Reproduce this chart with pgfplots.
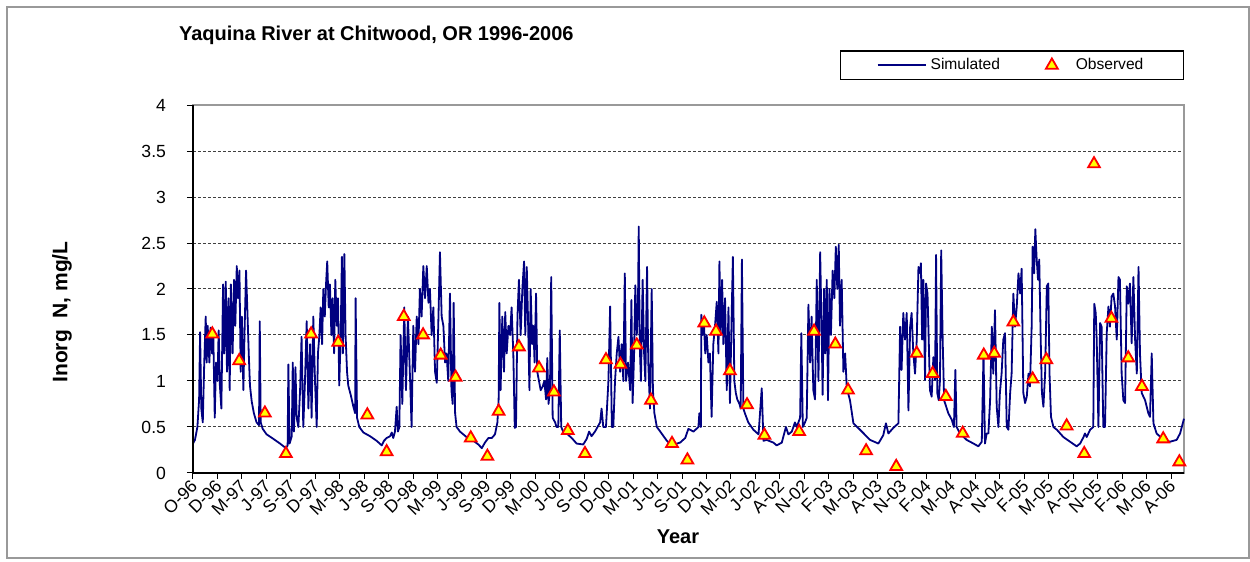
\documentclass[border=0pt]{standalone}
\usepackage{pgfplots}
\pgfplotsset{compat=1.18}
\usepackage{fontspec}
\setmainfont{Liberation Sans}
\definecolor{simblue}{RGB}{0,0,128}
\definecolor{obsred}{RGB}{255,0,0}
\definecolor{obsyellow}{RGB}{255,255,0}
\pgfplotsset{simleg/.style={legend image code/.code={\path (0pt,0pt) -- (24pt,0pt); \draw[##1] (6pt,0pt) -- (24pt,0pt);}}}
\begin{document}
\begin{tikzpicture}
\useasboundingbox (0,0) rectangle (625pt,281pt);
\draw[gray!80, line width=0.6pt] (3.5pt,2pt) rectangle (624.5pt,277.5pt);
\node[anchor=west, font=\fontsize{10}{12}\selectfont\bfseries] at (86pt,263.5pt) {Yaquina River at Chitwood,  OR 1996-2006};
\node[rotate=90, font=\fontsize{10.5}{12}\selectfont\bfseries] at (31pt,125pt) {Inorg\ \ N, mg/L};
\node[font=\fontsize{10}{12}\selectfont\bfseries] at (339pt,12.5pt) {Year};
\begin{axis}[
  at={(96.5pt,44.5pt)}, anchor=south west,
  width=495.5pt, height=184pt, scale only axis,
  xmin=0, xmax=40.53, ymin=0, ymax=4,
  axis line style={draw=gray!80, line width=0.6pt},
  tick align=outside, major tick length=3pt,
  tick style={black, line width=0.5pt},
  xtick pos=left, ytick pos=left,
  xtick={0,1,...,40},
  xticklabels={O-96,D-96,M-97,J-97,S-97,D-97,M-98,J-98,S-98,D-98,M-99,J-99,S-99,D-99,M-00,J-00,S-00,D-00,M-01,J-01,S-01,D-01,M-02,J-02,A-02,N-02,F-03,M-03,A-03,N-03,F-04,M-04,A-04,N-04,F-05,M-05,A-05,N-05,F-06,M-06,A-06},
  xticklabel style={rotate=45, anchor=east, font=\fontsize{8.8}{10}\selectfont, inner sep=1pt, yshift=-2pt},
  ytick={0,0.5,1,1.5,2,2.5,3,3.5,4},
  yticklabels={0,0.5,1,1.5,2,2.5,3,3.5,4},
  yticklabel style={font=\fontsize{8.8}{10}\selectfont, xshift=-7pt},
  ymajorgrids,
  grid style={black!75, dash pattern=on 1.5pt off 1pt, line width=0.5pt},
  clip=false,
  legend columns=2,
  legend style={at={(1,1)}, anchor=south east, yshift=12.5pt, draw=black, line width=0.6pt,
    font=\fontsize{7.8}{9}\selectfont, inner xsep=18pt, inner ysep=1.5pt,
    /tikz/every even column/.append style={column sep=21pt}},
  legend cell align=left,
]
\addplot[simblue, line width=0.9pt, line join=round, simleg] table {
0.00 0.32
0.08 0.36
0.18 0.50
0.25 0.80
0.29 1.53
0.34 0.70
0.40 0.55
0.46 1.20
0.52 1.70
0.56 1.20
0.60 1.60
0.67 1.20
0.72 1.58
0.78 1.30
0.83 1.50
0.89 0.60
0.94 1.20
1.00 1.00
1.05 1.55
1.10 0.95
1.16 0.70
1.23 2.05
1.28 1.30
1.34 2.08
1.39 1.10
1.45 1.90
1.50 0.90
1.55 2.05
1.62 1.30
1.68 2.10
1.73 1.60
1.79 2.25
1.84 1.90
1.90 2.20
1.95 1.10
2.00 1.70
2.06 0.90
2.11 1.55
2.17 2.20
2.22 1.80
2.28 1.30
2.33 0.95
2.40 0.78
2.49 0.65
2.60 0.55
2.70 0.52
2.73 1.65
2.77 0.55
2.85 0.48
3.01 0.42
3.29 0.37
3.56 0.32
3.80 0.27
3.87 0.30
3.90 1.18
3.95 0.32
4.04 0.40
4.08 1.20
4.13 0.45
4.19 1.15
4.24 0.60
4.31 0.50
4.38 0.90
4.44 1.48
4.51 0.50
4.58 1.00
4.65 1.65
4.72 0.70
4.79 1.40
4.85 0.60
4.92 1.70
4.99 1.00
5.06 0.50
5.11 1.30
5.17 1.50
5.22 1.80
5.28 1.40
5.33 2.00
5.39 1.70
5.44 2.05
5.49 2.30
5.55 1.80
5.60 2.05
5.66 1.50
5.71 1.90
5.77 1.30
5.82 2.10
5.88 1.60
5.93 1.90
5.98 0.95
6.04 1.50
6.09 2.35
6.13 1.30
6.19 2.38
6.24 1.50
6.30 1.10
6.35 0.95
6.45 0.85
6.56 0.72
6.63 0.65
6.65 1.90
6.71 0.60
6.80 0.50
6.97 0.44
7.24 0.40
7.51 0.35
7.72 0.30
7.81 0.35
7.92 0.38
8.06 0.40
8.13 0.44
8.19 0.38
8.26 0.45
8.33 0.72
8.38 0.45
8.44 0.50
8.49 1.50
8.56 0.75
8.64 1.80
8.71 0.90
8.79 1.70
8.88 1.00
8.94 0.50
9.01 1.60
9.08 1.10
9.15 1.70
9.22 1.40
9.28 2.00
9.35 1.70
9.42 2.25
9.49 1.90
9.56 2.25
9.63 1.85
9.69 2.00
9.76 1.50
9.83 1.80
9.90 1.10
9.97 0.98
10.03 1.60
10.10 2.40
10.17 1.70
10.24 1.60
10.31 1.20
10.37 1.30
10.44 1.00
10.51 1.95
10.57 0.90
10.62 0.75
10.66 1.85
10.72 0.65
10.78 0.50
10.92 0.45
11.19 0.39
11.47 0.35
11.67 0.31
11.81 0.27
11.94 0.33
12.08 0.38
12.22 0.38
12.35 0.42
12.45 0.55
12.50 0.80
12.53 1.85
12.58 0.90
12.65 1.70
12.72 1.10
12.77 1.75
12.83 1.30
12.90 1.60
12.97 1.50
13.03 1.80
13.10 1.30
13.16 0.49
13.21 0.50
13.27 1.70
13.33 2.10
13.40 1.50
13.47 2.00
13.54 2.30
13.59 1.50
13.65 2.24
13.70 1.70
13.76 0.90
13.81 2.00
13.87 1.40
13.92 1.60
13.97 1.20
14.03 1.95
14.08 1.10
14.15 1.00
14.22 0.90
14.30 0.94
14.37 1.00
14.44 0.80
14.49 1.25
14.54 0.75
14.60 0.90
14.65 2.13
14.71 0.60
14.81 0.55
14.87 0.50
14.94 0.50
15.00 1.55
15.06 0.50
15.14 0.45
15.28 0.43
15.49 0.38
15.69 0.32
15.96 0.31
16.10 0.37
16.20 0.45
16.30 0.40
16.44 0.45
16.65 0.55
16.71 0.70
16.78 0.50
16.89 0.50
16.99 1.00
17.06 1.81
17.13 0.50
17.19 0.50
17.26 1.00
17.33 1.30
17.40 1.48
17.47 1.10
17.53 1.40
17.60 1.00
17.66 2.17
17.71 1.00
17.79 1.20
17.88 0.90
17.93 1.88
17.98 0.76
18.04 1.30
18.09 2.04
18.15 1.50
18.20 1.85
18.23 2.68
18.27 1.40
18.32 1.00
18.39 2.10
18.45 1.30
18.50 1.00
18.57 2.24
18.62 1.20
18.69 0.70
18.76 2.00
18.81 0.90
18.87 0.65
18.97 0.50
19.11 0.45
19.38 0.35
19.58 0.30
19.79 0.32
19.92 0.33
20.13 0.38
20.26 0.48
20.47 0.45
20.67 0.50
20.71 0.65
20.77 0.50
20.79 1.72
20.85 1.50
20.90 1.60
20.95 1.30
21.01 1.50
21.08 1.20
21.14 1.30
21.21 0.61
21.28 1.40
21.35 1.60
21.42 1.86
21.49 1.30
21.53 2.30
21.58 1.50
21.64 2.10
21.69 1.40
21.76 1.90
21.83 0.90
21.90 1.80
21.96 0.76
22.03 1.70
22.08 2.35
22.14 1.00
22.20 0.87
22.26 0.80
22.35 0.75
22.40 0.70
22.45 2.32
22.51 0.70
22.57 0.65
22.71 0.55
22.92 0.47
23.13 0.42
23.26 0.92
23.33 0.35
23.46 0.36
23.74 0.33
23.87 0.30
24.08 0.33
24.25 0.50
24.35 0.42
24.49 0.45
24.62 0.55
24.69 0.50
24.83 0.60
24.88 1.52
24.94 0.50
25.03 0.55
25.10 0.60
25.17 1.83
25.24 1.20
25.30 1.70
25.37 0.90
25.44 0.80
25.51 2.10
25.58 1.00
25.65 2.40
25.72 1.40
25.75 0.85
25.81 2.00
25.86 1.30
25.92 2.10
25.97 0.79
26.03 2.00
26.09 1.50
26.16 2.20
26.23 1.90
26.29 2.46
26.35 2.00
26.41 2.48
26.46 1.60
26.53 2.10
26.60 1.10
26.67 1.30
26.74 0.92
26.87 0.79
27.01 0.54
27.28 0.47
27.69 0.36
28.03 0.32
28.23 0.41
28.34 0.54
28.44 0.43
28.64 0.49
28.85 0.54
28.92 1.59
28.98 1.12
29.05 1.74
29.12 1.45
29.19 1.74
29.26 0.68
29.33 1.59
29.39 1.74
29.46 1.30
29.53 1.08
29.60 1.45
29.67 2.24
29.74 2.17
29.77 2.28
29.82 1.45
29.87 2.10
29.94 1.01
29.98 2.06
30.04 1.95
30.09 1.45
30.14 0.90
30.21 0.83
30.28 1.26
30.35 1.01
30.39 2.37
30.44 0.87
30.50 0.79
30.55 1.01
30.60 2.42
30.66 1.45
30.72 0.79
30.89 0.65
31.03 0.58
31.12 0.50
31.18 1.12
31.23 0.50
31.37 0.43
31.64 0.36
31.92 0.32
32.12 0.29
32.26 0.34
32.33 1.30
32.39 0.32
32.46 0.43
32.53 0.43
32.60 0.79
32.67 1.59
32.73 1.08
32.80 1.77
32.87 0.72
32.94 0.50
33.00 0.87
33.07 1.08
33.14 1.45
33.21 1.52
33.28 0.50
33.35 0.47
33.42 0.87
33.48 1.08
33.55 1.95
33.62 1.59
33.69 1.81
33.76 2.17
33.83 1.95
33.89 2.22
33.96 0.87
34.03 0.76
34.10 0.83
34.17 1.08
34.23 0.94
34.30 1.59
34.34 2.46
34.40 2.17
34.45 2.65
34.50 2.35
34.56 2.10
34.61 2.32
34.67 1.45
34.72 0.87
34.78 0.72
34.85 1.08
34.92 2.03
34.98 2.06
35.03 1.08
35.09 0.61
35.19 0.50
35.33 0.47
35.60 0.39
35.87 0.34
36.14 0.29
36.28 0.32
36.42 0.39
36.48 0.43
36.55 0.39
36.69 0.47
36.82 0.50
36.86 1.84
36.92 1.74
36.96 1.45
37.03 0.50
37.10 1.63
37.16 1.59
37.23 0.50
37.30 0.50
37.37 1.52
37.44 1.81
37.50 1.59
37.57 1.92
37.64 1.95
37.71 1.81
37.78 1.45
37.85 2.13
37.91 2.10
37.98 1.08
38.05 0.79
38.12 0.76
38.16 1.48
38.19 2.03
38.25 1.84
38.32 2.06
38.39 1.41
38.46 2.13
38.53 1.45
38.60 1.08
38.67 2.24
38.73 1.30
38.80 0.87
38.94 0.79
39.07 0.65
39.14 0.61
39.21 1.30
39.28 0.54
39.41 0.43
39.69 0.36
39.96 0.34
40.23 0.36
40.37 0.43
40.53 0.59
};
\addlegendentry{Simulated}
\addplot[only marks, mark=triangle*, mark size=3.4pt,
  mark options={fill=obsyellow, draw=obsred, line width=0.9pt}] table {
0.79 1.51
1.89 1.22
2.94 0.65
3.80 0.21
4.83 1.51
5.94 1.42
7.13 0.63
7.92 0.23
8.62 1.70
9.41 1.50
10.13 1.28
10.74 1.04
11.36 0.38
12.04 0.18
12.50 0.67
13.33 1.37
14.15 1.14
14.76 0.88
15.33 0.46
16.03 0.21
16.89 1.23
17.48 1.18
18.15 1.39
18.73 0.79
19.59 0.32
20.22 0.14
20.91 1.63
21.39 1.54
21.96 1.11
22.66 0.74
23.37 0.41
24.79 0.45
25.40 1.54
26.27 1.40
26.79 0.90
27.53 0.24
28.76 0.07
29.60 1.30
30.25 1.08
30.79 0.83
31.48 0.43
32.34 1.28
32.77 1.30
33.55 1.64
34.34 1.02
34.90 1.23
35.73 0.51
36.45 0.21
36.85 3.36
37.56 1.68
38.25 1.25
38.81 0.94
39.68 0.37
40.34 0.12
};
\addlegendentry{\hspace*{7pt}Observed}
\draw[black, line width=0.6pt] (rel axis cs:0,1) -- (rel axis cs:0,0) -- (rel axis cs:1,0);
\end{axis}
\end{tikzpicture}
\end{document}
